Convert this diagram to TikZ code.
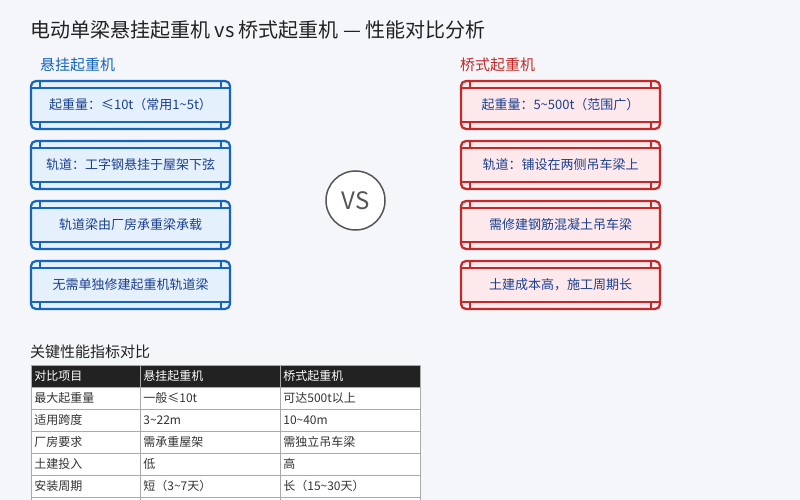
\documentclass[tikz,border=0pt]{standalone}
\usepackage{fontspec}
\setmainfont{Noto Sans CJK SC}
\usetikzlibrary{positioning}

\definecolor{pagebg}{HTML}{F5F6FA}
\definecolor{hangblue}{HTML}{1565C0}
\definecolor{hangfill}{HTML}{E4F0FC}
\definecolor{bridgered}{HTML}{C62828}
\definecolor{bridgefill}{HTML}{FDE9EB}
\definecolor{boxtext}{HTML}{1B3F8F}
\definecolor{titletext}{HTML}{222222}
\definecolor{vsgray}{HTML}{555555}
\definecolor{gridgray}{HTML}{AAAAAA}
\definecolor{celltext}{HTML}{333333}

\begin{document}
\begin{tikzpicture}[x=1pt,y=-1pt,
  railbox/.style 2 args={draw=#1,fill=#2,line width=2.2pt,rounded corners=5pt,minimum width=199pt,minimum height=48pt,inner sep=0pt,text=boxtext,font=\fontsize{13}{15}\selectfont,
    path picture={
      \draw[#1,line width=2pt,sharp corners] ([yshift=-7pt]path picture bounding box.north west) -- ([yshift=-7pt]path picture bounding box.north east);
      \draw[#1,line width=2pt,sharp corners] ([yshift=7pt]path picture bounding box.south west) -- ([yshift=7pt]path picture bounding box.south east);
      \draw[#1,line width=2pt,sharp corners] ([xshift=9pt]path picture bounding box.north west) -- ([xshift=9pt,yshift=-7pt]path picture bounding box.north west);
      \draw[#1,line width=2pt,sharp corners] ([xshift=-9pt]path picture bounding box.north east) -- ([xshift=-9pt,yshift=-7pt]path picture bounding box.north east);
      \draw[#1,line width=2pt,sharp corners] ([xshift=9pt]path picture bounding box.south west) -- ([xshift=9pt,yshift=7pt]path picture bounding box.south west);
      \draw[#1,line width=2pt,sharp corners] ([xshift=-9pt]path picture bounding box.south east) -- ([xshift=-9pt,yshift=7pt]path picture bounding box.south east);
    }},
  sidehead/.style={anchor=west,inner sep=0pt,font=\fontsize{15}{17}\selectfont},
  cell/.style={draw=gridgray,line width=0.7pt,fill=white,anchor=north west,minimum height=22pt,inner sep=3pt,align=left,text=celltext,font=\fontsize{12}{14}\selectfont},
  headcell/.style={cell,fill=titletext,text=white}]
\useasboundingbox (0,0) rectangle (800,500);
\fill[pagebg] (0,0) rectangle (800,500);

% title
\node[anchor=west,inner sep=0pt,text=titletext,font=\fontsize{20}{24}\selectfont] (main_title) at (30,30) {电动单梁悬挂起重机 vs 桥式起重机 — 性能对比分析};

% left column: suspension crane
\node[sidehead,text=hangblue] (hang_head) at (40,65) {悬挂起重机};
\node[railbox={hangblue}{hangfill}] (hang_1) at (130.5,105) {起重量：≤10t（常用1\textasciitilde5t）};
\node[railbox={hangblue}{hangfill}] (hang_2) at (130.5,165) {轨道：工字钢悬挂于屋架下弦};
\node[railbox={hangblue}{hangfill}] (hang_3) at (130.5,225) {轨道梁由厂房承重梁承载};
\node[railbox={hangblue}{hangfill}] (hang_4) at (130.5,285) {无需单独修建起重机轨道梁};

% right column: bridge crane
\node[sidehead,text=bridgered] (bridge_head) at (460,65) {桥式起重机};
\node[railbox={bridgered}{bridgefill}] (bridge_1) at (560.5,105) {起重量：5\textasciitilde500t（范围广）};
\node[railbox={bridgered}{bridgefill}] (bridge_2) at (560.5,165) {轨道：铺设在两侧吊车梁上};
\node[railbox={bridgered}{bridgefill}] (bridge_3) at (560.5,225) {需修建钢筋混凝土吊车梁};
\node[railbox={bridgered}{bridgefill}] (bridge_4) at (560.5,285) {土建成本高，施工周期长};

% vs badge
\node[circle,draw=vsgray,line width=1.5pt,fill=white,minimum size=59pt,inner sep=0pt,text=vsgray,font=\fontsize{24}{26}\selectfont] (vs) at (355.5,200.5) {VS};

% comparison table
\node[anchor=west,inner sep=0pt,text=titletext,font=\fontsize{15}{17}\selectfont] (tab_title) at (30,352) {关键性能指标对比};
\node[headcell,minimum width=109pt,text width=103pt] (t0c1) at (31,365) {对比项目};
\node[headcell,minimum width=140pt,text width=134pt] (t0c2) at (140,365) {悬挂起重机};
\node[headcell,minimum width=140pt,text width=134pt] (t0c3) at (280,365) {桥式起重机};
\foreach \r/\ka/\kb/\kc in {1/最大起重量/一般≤10t/可达500t以上,
    2/适用跨度/3\textasciitilde22m/10\textasciitilde40m,
    3/厂房要求/需承重屋架/需独立吊车梁,
    4/土建投入/低/高,
    5/安装周期/短（3\textasciitilde7天）/长（15\textasciitilde30天）,
    6/ / / }{
  \node[cell,minimum width=109pt,text width=103pt] (t\r c1) at (31,365+22*\r) {\ka};
  \node[cell,minimum width=140pt,text width=134pt] (t\r c2) at (140,365+22*\r) {\kb};
  \node[cell,minimum width=140pt,text width=134pt] (t\r c3) at (280,365+22*\r) {\kc};
}
\end{tikzpicture}
\end{document}
